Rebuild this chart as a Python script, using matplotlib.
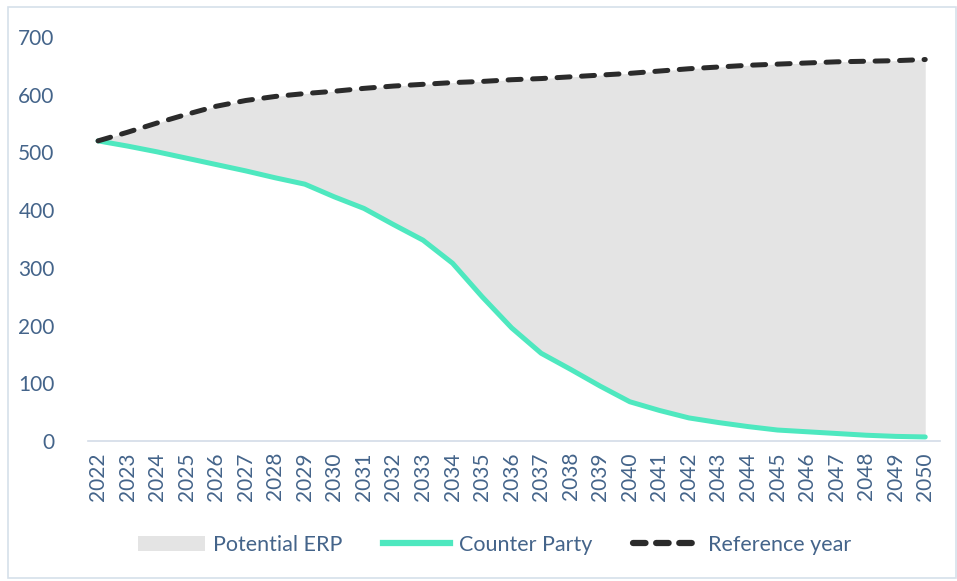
import numpy as np
import matplotlib
matplotlib.use("Agg")
import matplotlib.pyplot as plt
from matplotlib.patches import Rectangle, Patch
from matplotlib.lines import Line2D

years = list(range(2022, 2051))
counter_party = [520, 511, 501, 490, 479, 468, 456, 445, 423, 403,
                 375, 348, 308, 250, 196, 152, 124, 95, 68, 53,
                 40, 32, 25, 19, 16, 13, 10, 8, 7]
reference_year = [520, 535, 551, 566, 580, 590, 597, 602, 606, 611,
                  615, 618, 621, 623, 626, 628, 631, 634, 637, 641,
                  645, 648, 651, 653, 655, 657, 658, 659, 661]
legend_labels = ["Potential ERP", "Counter Party", "Reference year"]

TEXT = "#44648a"
TEAL = "#4ee8bf"
DARK = "#2b2b2b"
plt.rcParams["font.family"] = ["Lato", "DejaVu Sans"]

fig = plt.figure(figsize=(9.57, 5.81), dpi=100)
ax = fig.add_axes([88 / 957, 1 - 441 / 581, (940 - 88) / 957, (441 - 37) / 581])

x = np.arange(len(years))
ax.fill_between(x, counter_party, reference_year, color="#e4e4e4", lw=0)
ax.plot(x, counter_party, color=TEAL, lw=3.6, solid_capstyle="round")
ax.plot(x, reference_year, color=DARK, lw=3.6, ls=(0, (2.6, 2.3)),
        dash_capstyle="round")

ax.set_xlim(-0.34, 28.5)
ax.set_ylim(0, 700)
ax.set_yticks(range(0, 701, 100))
ax.set_xticks(x)
ax.set_xticklabels([str(y) for y in years], rotation=90)
ax.tick_params(axis="both", length=0, labelsize=15, labelcolor=TEXT)
ax.tick_params(axis="y", pad=24)
ax.tick_params(axis="x", pad=8)
for s in ["top", "right", "left"]:
    ax.spines[s].set_visible(False)
ax.spines["bottom"].set_color("#d3dce8")
ax.spines["bottom"].set_linewidth(1.2)

handles = [
    Patch(facecolor="#e4e4e4", edgecolor="none"),
    Line2D([], [], color=TEAL, lw=4.5),
    Line2D([], [], color=DARK, lw=4.5, ls=(0, (2.0, 1.7)), dash_capstyle="round"),
]
leg = fig.legend(handles, legend_labels, loc="center", bbox_to_anchor=(0.517, 1 - 545 / 581),
                 ncol=3, frameon=False, fontsize=15.5, handlelength=3.1, columnspacing=1.9,
                 handletextpad=0.4)
for t in leg.get_texts():
    t.set_color(TEXT)

fig.patches.append(Rectangle((8 / 957, 3 / 581), 948 / 957, 571 / 581, transform=fig.transFigure,
                             fill=False, edgecolor="#d6e0ea", lw=1.2))

fig.savefig("out.png", dpi=100)
